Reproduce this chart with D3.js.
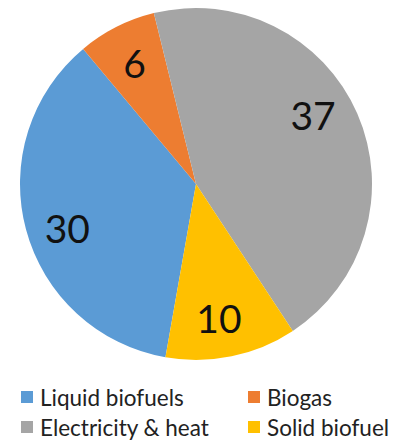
<!DOCTYPE html>
<html><head><meta charset="utf-8">
<script src="https://cdn.jsdelivr.net/npm/d3@7"></script>
<style>html,body{margin:0;padding:0;background:#fff;}svg{display:block;}</style>
</head><body>
<svg id="c" width="405" height="443"></svg>
<script>
const categories = ["Liquid biofuels", "Biogas", "Electricity & heat", "Solid biofuel"];
const values = [30, 6, 37, 10];
const colors = ["#5B9BD5", "#ED7D31", "#A5A5A5", "#FFC000"];
const legendOrder = [[0, 1], [2, 3]];

const svg = d3.select("#c");
const cx = 196, cy = 184, R = 176;
const start = 190 * Math.PI / 180;
// small angular nudges (degrees) for value labels, mimicking the original's placement
const labelNudge = [-4, 0, -7, 2];

const pie = d3.pie().sort(null).value(d => d).startAngle(start).endAngle(start + 2 * Math.PI);
const arcs = pie(values);
const arc = d3.arc().innerRadius(0).outerRadius(R);
const labelArc = d3.arc().innerRadius(136).outerRadius(136);

const g = svg.append("g").attr("transform", `translate(${cx},${cy})`);
g.selectAll("path").data(arcs).join("path")
  .attr("d", arc).attr("fill", (d, i) => colors[i]);

g.selectAll("text").data(arcs).join("text")
  .attr("transform", (d, i) => {
    const a = (d.startAngle + d.endAngle) / 2 + labelNudge[i] * Math.PI / 180;
    const p = labelArc.centroid({startAngle: a, endAngle: a});
    return `translate(${p})`;
  })
  .attr("text-anchor", "middle").attr("dominant-baseline", "central")
  .attr("font-family", "Lato, 'Open Sans', sans-serif").attr("font-size", 39)
  .attr("fill", "#111").text(d => d.data);

const leg = svg.append("g").attr("font-family", "Lato, 'Open Sans', sans-serif").attr("font-size", 22.5).attr("fill", "#222");
const colX = [21, 248], rowY = [397, 427];
legendOrder.forEach((row, r) => row.forEach((idx, c) => {
  leg.append("rect").attr("x", colX[c]).attr("y", rowY[r] - 6).attr("width", 12).attr("height", 12).attr("fill", colors[idx]);
  leg.append("text").attr("x", colX[c] + 19).attr("y", rowY[r]).attr("dominant-baseline", "central").text(categories[idx]);
}));
</script>
</body></html>
